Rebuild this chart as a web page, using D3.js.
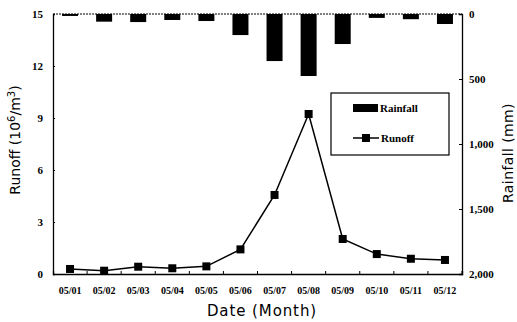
<!DOCTYPE html>
<html><head><meta charset="utf-8">
<script src="https://cdn.jsdelivr.net/npm/d3@7/dist/d3.min.js"></script>
<style>body{margin:0;background:#fff}svg{display:block}</style>
</head><body>
<svg id="c" width="517" height="322"></svg>
<script>
const dates = ["05/01","05/02","05/03","05/04","05/05","05/06","05/07","05/08","05/09","05/10","05/11","05/12"];
const rainfall = [15,59,62,46,54,162,362,477,231,30,40,77];
const runoff = [0.29,0.19,0.42,0.33,0.44,1.42,4.56,9.23,2.02,1.15,0.88,0.81];
const leftTicks = [0,3,6,9,12,15];
const rightTicks = [0,500,1000,1500,2000];

const svg = d3.select("#c");
const m = {l:53, r:462, t:14, b:274};
const x = d3.scaleBand().domain(dates).range([m.l, m.r]).paddingInner(0).paddingOuter(0);
const yL = d3.scaleLinear().domain([0,15]).range([m.b, m.t]);
const yR = d3.scaleLinear().domain([0,2000]).range([m.t, m.b]);
const tickFont = "Liberation Serif";

// bars
svg.append("g").selectAll("rect").data(dates).join("rect")
  .attr("x", d => x(d) + x.bandwidth()/2 - 8)
  .attr("width", 16)
  .attr("y", yR(0))
  .attr("height", (d,i) => yR(rainfall[i]) - yR(0))
  .attr("fill", "#000");

// top dotted border
svg.append("line").attr("x1", m.l).attr("x2", m.r).attr("y1", m.t).attr("y2", m.t)
  .attr("stroke","#000").attr("stroke-width",1.2).attr("stroke-dasharray","2,1");

// axes
const gL = svg.append("g").attr("transform", `translate(${m.l},0)`)
  .call(d3.axisLeft(yL).tickValues(leftTicks).tickSize(-2).tickPadding(10));
const gR = svg.append("g").attr("transform", `translate(${m.r},0)`)
  .call(d3.axisRight(yR).tickValues(rightTicks).tickSize(-3).tickPadding(7).tickFormat(d3.format(",")));
const gB = svg.append("g").attr("transform", `translate(0,${m.b})`)
  .call(d3.axisBottom(x).tickSize(-3).tickPadding(13));
[gL,gR,gB].forEach(g => {
  g.select(".domain").attr("stroke","#000").attr("stroke-width",1.3);
  g.selectAll(".tick line").attr("stroke","#000");
  g.selectAll("text").attr("font-family", tickFont).attr("font-weight","bold").attr("fill","#000");
});
gL.selectAll("text").attr("font-size", 11);
gR.selectAll("text").attr("font-size", 11);
gB.selectAll("text").attr("font-size", 10);
gB.selectAll(".tick line").attr("transform", `translate(${x.bandwidth()/2},0)`);

// runoff line
const line = d3.line().x((d,i) => x(dates[i]) + x.bandwidth()/2).y(d => yL(d));
svg.append("path").datum(runoff).attr("d", line).attr("fill","none").attr("stroke","#000").attr("stroke-width",1.5);
svg.append("g").selectAll("rect").data(runoff).join("rect")
  .attr("x", (d,i) => x(dates[i]) + x.bandwidth()/2 - 4)
  .attr("y", d => yL(d) - 4).attr("width", 8).attr("height", 8).attr("fill","#000");

// axis titles
const tl = svg.append("text").attr("transform","translate(20,140) rotate(-90)").attr("text-anchor","middle")
  .attr("font-family","DejaVu Sans").attr("font-size",14);
tl.append("tspan").text("Runoff (10");
tl.append("tspan").attr("dy",-5).attr("font-size",10).text("6");
tl.append("tspan").attr("dy",5).text("/m");
tl.append("tspan").attr("dy",-5).attr("font-size",10).text("3");
tl.append("tspan").attr("dy",5).text(")");

svg.append("text").attr("transform","translate(513,153) rotate(-90)").attr("text-anchor","middle")
  .attr("font-family","DejaVu Sans").attr("font-size",14).attr("letter-spacing",0.4).text("Rainfall (mm)");
svg.append("text").attr("x",262).attr("y",316).attr("text-anchor","middle")
  .attr("font-family","DejaVu Sans").attr("font-size",15).attr("letter-spacing",0.9).text("Date (Month)");

// legend
const lg = svg.append("g");
lg.append("rect").attr("x",331).attr("y",93).attr("width",118).attr("height",62)
  .attr("fill","#fff").attr("stroke","#000").attr("stroke-width",1.2);
lg.append("rect").attr("x",353).attr("y",104).attr("width",25).attr("height",8).attr("fill","#000");
lg.append("text").attr("x",380).attr("y",112).attr("font-family",tickFont).attr("font-weight","bold")
  .attr("font-size",11).text("Rainfall");
lg.append("line").attr("x1",353).attr("x2",379).attr("y1",138).attr("y2",138).attr("stroke","#000").attr("stroke-width",1.5);
lg.append("rect").attr("x",362).attr("y",134).attr("width",8).attr("height",8).attr("fill","#000");
lg.append("text").attr("x",381).attr("y",142).attr("font-family",tickFont).attr("font-weight","bold")
  .attr("font-size",11).text("Runoff");
</script>
</body></html>
